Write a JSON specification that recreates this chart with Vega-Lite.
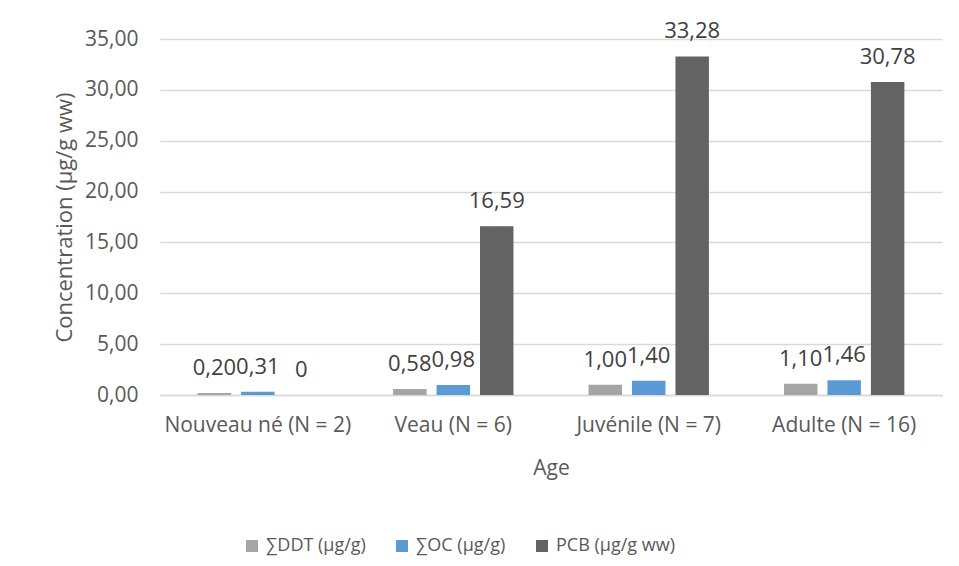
{
  "$schema": "https://vega.github.io/schema/vega-lite/v6.json",
  "width": 782,
  "height": 356,
  "autosize": {"type": "none"},
  "padding": {"left": 160, "top": 39, "right": 17, "bottom": 171},
  "background": "white",
  "config": {
    "view": {"stroke": null},
    "font": "Open Sans",
    "axis": {"labelColor": "#595959", "titleColor": "#595959", "titleFontWeight": "normal", "labelFont": "Open Sans", "titleFont": "Open Sans"},
    "legend": {"labelColor": "#595959", "labelFont": "Open Sans"}
  },
  "data": {
    "values": [
      {"age": "Nouveau né (N = 2)", "serie": "∑DDT (µg/g)", "valeur": 0.20, "label": "0,20"},
      {"age": "Nouveau né (N = 2)", "serie": "∑OC (µg/g)", "valeur": 0.31, "label": "0,31"},
      {"age": "Nouveau né (N = 2)", "serie": "PCB (µg/g ww)", "valeur": 0, "label": "0"},
      {"age": "Veau (N = 6)", "serie": "∑DDT (µg/g)", "valeur": 0.58, "label": "0,58"},
      {"age": "Veau (N = 6)", "serie": "∑OC (µg/g)", "valeur": 0.98, "label": "0,98"},
      {"age": "Veau (N = 6)", "serie": "PCB (µg/g ww)", "valeur": 16.59, "label": "16,59"},
      {"age": "Juvénile (N = 7)", "serie": "∑DDT (µg/g)", "valeur": 1.00, "label": "1,00"},
      {"age": "Juvénile (N = 7)", "serie": "∑OC (µg/g)", "valeur": 1.40, "label": "1,40"},
      {"age": "Juvénile (N = 7)", "serie": "PCB (µg/g ww)", "valeur": 33.28, "label": "33,28"},
      {"age": "Adulte (N = 16)", "serie": "∑DDT (µg/g)", "valeur": 1.10, "label": "1,10"},
      {"age": "Adulte (N = 16)", "serie": "∑OC (µg/g)", "valeur": 1.46, "label": "1,46"},
      {"age": "Adulte (N = 16)", "serie": "PCB (µg/g ww)", "valeur": 30.78, "label": "30,78"}
    ]
  },
  "encoding": {
    "x": {
      "field": "age",
      "type": "nominal",
      "sort": ["Nouveau né (N = 2)", "Veau (N = 6)", "Juvénile (N = 7)", "Adulte (N = 16)"],
      "scale": {"paddingInner": 0.333, "paddingOuter": 0.167},
      "title": "Age",
      "axis": {
        "labelAngle": 0,
        "labelFontSize": 21,
        "labelPadding": 19,
        "labelOverlap": false,
        "labelLimit": 0,
        "ticks": false,
        "domainColor": "#d9d9d9",
        "domainWidth": 1.5,
        "titleFontSize": 21,
        "titlePadding": 22
      }
    },
    "xOffset": {
      "field": "serie",
      "type": "nominal",
      "sort": ["∑DDT (µg/g)", "∑OC (µg/g)", "PCB (µg/g ww)"],
      "scale": {"paddingInner": 0.23, "paddingOuter": 0.115}
    },
    "y": {
      "field": "valeur",
      "type": "quantitative",
      "scale": {"domain": [0, 35], "nice": false},
      "title": "Concentration (µg/g ww)",
      "axis": {
        "values": [0, 5, 10, 15, 20, 25, 30, 35],
        "labelExpr": "replace(format(datum.value, '.2f'), '.', ',')",
        "labelFontSize": 21,
        "labelPadding": 22,
        "ticks": false,
        "domain": false,
        "gridColor": "#d9d9d9",
        "gridWidth": 1.5,
        "titleFontSize": 22,
        "titlePadding": 8
      }
    }
  },
  "layer": [
    {
      "mark": {"type": "bar"},
      "encoding": {
        "color": {
          "field": "serie",
          "type": "nominal",
          "sort": ["∑DDT (µg/g)", "∑OC (µg/g)", "PCB (µg/g ww)"],
          "scale": {"domain": ["∑DDT (µg/g)", "∑OC (µg/g)", "PCB (µg/g ww)"], "range": ["#a5a5a5", "#5b9bd5", "#636363"]},
          "legend": {
            "orient": "none",
            "legendX": 83,
            "legendY": 498,
            "direction": "horizontal",
            "title": null,
            "symbolType": "square",
            "symbolSize": 144,
            "symbolStrokeWidth": 0,
            "labelFontSize": 18,
            "labelOffset": 5,
            "columnPadding": 27,
            "labelLimit": 0
          }
        }
      }
    },
    {
      "mark": {"type": "text", "dy": -25, "baseline": "middle", "align": "center", "fontSize": 22, "color": "#404040"},
      "encoding": {"text": {"field": "label"}}
    }
  ]
}
